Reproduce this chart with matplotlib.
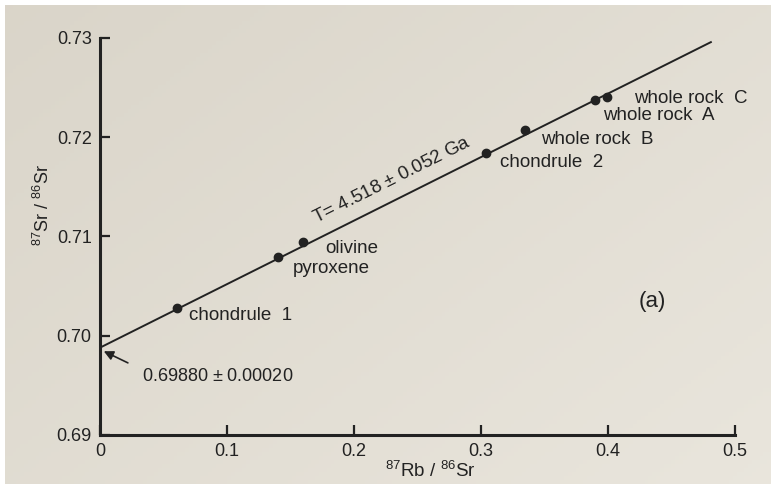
import numpy as np
from matplotlib import pyplot as plt

# isochron samples (87Rb/86Sr, 87Sr/86Sr)
samples = ["chondrule  1", "pyroxene", "olivine", "chondrule  2",
           "whole rock  B", "whole rock  A", "whole rock  C"]
rb_sr = [0.061, 0.140, 0.160, 0.304, 0.335, 0.390, 0.399]
sr_sr = [0.7028, 0.7079, 0.7094, 0.7184, 0.7207, 0.7238, 0.7241]

# fitted isochron
intercept = 0.6988
slope = 0.0640
line_x = [0.0, 0.481]

x_ticks = [0, 0.1, 0.2, 0.3, 0.4, 0.5]
x_tick_labels = ["0", "0.1", "0.2", "0.3", "0.4", "0.5"]
y_ticks = [0.69, 0.70, 0.71, 0.72, 0.73]
y_tick_labels = ["0.69", "0.70", "0.71", "0.72", "0.73"]

age_text = "T= 4.518 $\\pm$ 0.052 Ga"
intercept_text = "0.69880 $\\pm$ 0.00020"

plt.rcParams["font.family"] = ["Liberation Sans", "DejaVu Sans"]
plt.rcParams["mathtext.fontset"] = "custom"
plt.rcParams["mathtext.rm"] = "Liberation Sans"

ink = "#222222"

fig = plt.figure(figsize=(7.71, 4.84), dpi=100, facecolor="white")

# photographed page: slightly uneven paper tone, white strip top/left
bg = fig.add_axes([5 / 771, 0, 766 / 771, 479 / 484])
gx, gy = np.meshgrid(np.linspace(0, 1, 200), np.linspace(0, 1, 120))
shade = 0.55 * gx + 0.45 * gy
c0 = np.array([0.855, 0.835, 0.79])
c1 = np.array([0.915, 0.90, 0.865])
img = c0 + (c1 - c0) * shade[..., None]
bg.imshow(img, aspect="auto", extent=(0, 1, 0, 1), origin="upper")
bg.set_axis_off()

ax = fig.add_axes([100 / 771, 1 - 435 / 484, 635 / 771, 397 / 484])
ax.patch.set_alpha(0)

ax.set_xlim(0, 0.5)
ax.set_ylim(0.69, 0.73)
for s in ["top", "right"]:
    ax.spines[s].set_visible(False)
for s in ["left", "bottom"]:
    ax.spines[s].set_linewidth(2.2)
    ax.spines[s].set_color(ink)

ax.set_xticks(x_ticks)
ax.set_xticklabels(x_tick_labels)
ax.set_yticks(y_ticks)
ax.set_yticklabels(y_tick_labels)
ax.tick_params(direction="in", length=7, width=1.6, colors=ink,
               labelsize=13, pad=6)

# isochron line
lx = np.array(line_x)
ly = intercept + slope * lx
ax.plot(lx, ly, color=ink, lw=1.4, zorder=2)
ax.plot(rb_sr, sr_sr, "o", color=ink, ms=6, zorder=3)

# sample labels (offsets in px -> pt)
offsets_px = {
    "chondrule  1": (12, -8),
    "pyroxene": (15, -11),
    "olivine": (22, -6),
    "chondrule  2": (14, -9),
    "whole rock  B": (16, -9),
    "whole rock  A": (8, -16),
    "whole rock  C": (27, -2),
}
for name, x, y in zip(samples, rb_sr, sr_sr):
    dx, dy = offsets_px[name]
    ax.annotate(name, xy=(x, y), xytext=(dx * 0.72, dy * 0.72),
                textcoords="offset points", ha="left", va="center",
                fontsize=13.5, color=ink)

# age label along the line
fig.canvas.draw()
p0 = ax.transData.transform((lx[0], ly[0]))
p1 = ax.transData.transform((lx[1], ly[1]))
angle = np.degrees(np.arctan2(p1[1] - p0[1], p1[0] - p0[0]))
tx = 0.236
ax.annotate(age_text, xy=(tx, intercept + slope * tx), xytext=(-3, 7),
            textcoords="offset points", ha="center", va="bottom",
            rotation=angle, rotation_mode="anchor", fontsize=13.5, color=ink)

# intercept arrow
ax.annotate(intercept_text, xy=(0.002, intercept - 0.0003),
            xytext=(0.033, 0.6959), ha="left", va="center", fontsize=13,
            color=ink,
            arrowprops=dict(arrowstyle="-|>", color=ink, lw=1.2,
                            relpos=(0, 0.9), shrinkA=9, shrinkB=1,
                            mutation_scale=14))

ax.text(0.435, 0.7035, "(a)", fontsize=16, color=ink, ha="center",
        va="center")

ax.set_ylabel("$^{87}$Sr / $^{86}$Sr", fontsize=13, color=ink)
ax.yaxis.set_label_coords(-0.074, 0.58)
fig.text(430 / 771, 1 - 460 / 484, "$^{87}$Rb / $^{86}$Sr", fontsize=13.5,
         color=ink, ha="center", va="top")

fig.savefig("out.png", dpi=100, facecolor="white")
